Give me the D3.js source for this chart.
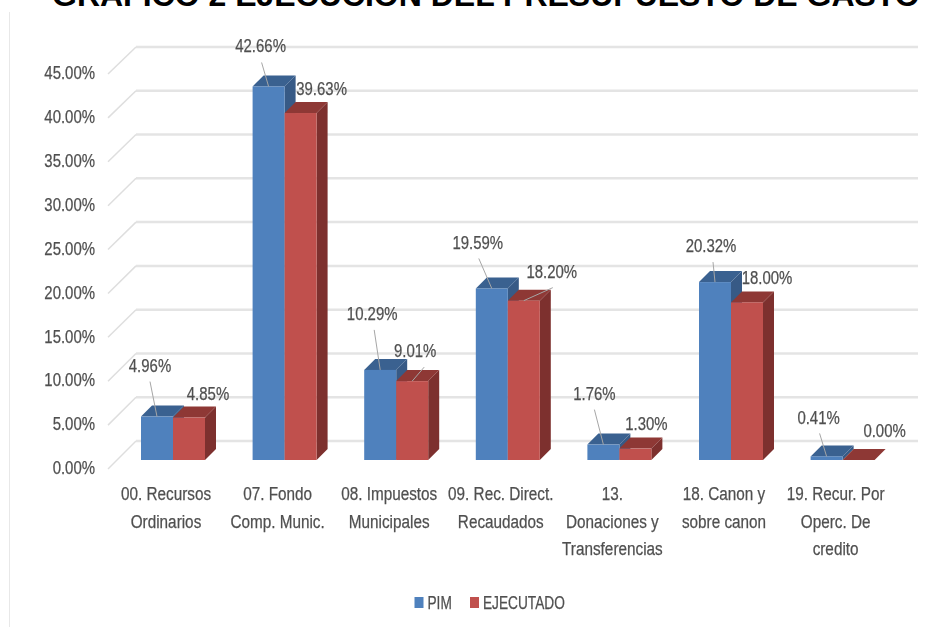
<!DOCTYPE html>
<html>
<head>
<meta charset="utf-8">
<script src="https://d3js.org/d3.v7.min.js"></script>
<style>
  html, body { margin: 0; padding: 0; background: #fff; overflow: hidden; }
  text { font-family: "Liberation Sans", Arial, sans-serif; fill: #505050; font-size: 18px; }
  .soft text, text.soft { stroke: #505050; stroke-width: 0.25px; }
</style>
</head>
<body>
<svg id="chart" width="946" height="627"></svg>
<script>
const titleText = 'GRAFICO 2 EJECUCION DEL PRESUPUESTO DE GASTO';
const categories = [
  ['00. Recursos', 'Ordinarios'],
  ['07. Fondo', 'Comp. Munic.'],
  ['08. Impuestos', 'Municipales'],
  ['09. Rec. Direct.', 'Recaudados'],
  ['13.', 'Donaciones y', 'Transferencias'],
  ['18. Canon y', 'sobre canon'],
  ['19. Recur. Por', 'Operc. De', 'credito']
];
const seriesNames = ['PIM', 'EJECUTADO'];
const pim = [4.96, 42.66, 10.29, 19.59, 1.76, 20.32, 0.41];
const ejecutado = [4.85, 39.63, 9.01, 18.20, 1.30, 18.00, 0.00];
const yTicks = [0, 5, 10, 15, 20, 25, 30, 35, 40, 45];

// data label place relative to the front top centre of its bar:
// [label dx, label dy, leader start dx, leader start dy] - leader is optional
const pimLabelPos = [
  [-7, -51, -7, -35], [-8, -41, -7, -24], [-8, -56, -6, -40], [-14, -46, -13, -30],
  [-9, -51, -9, -35], [-4, -36, -2, -20], [-8, -39, -7, -23]
];
const ejeLabelPos = [
  [19, -24], [21, -24], [3, -30, 12, -14], [28, -29, 29, -13],
  [11, -25], [20, -25], [26, -29]
];

const colors = {
  PIM: { front: '#4f81bd', top: '#3a6190', side: '#375a86' },
  EJECUTADO: { front: '#c0504d', top: '#8e3835', side: '#7d302e' }
};

const depth = 11;
const svg = d3.select('#chart');

// the source picture is a soft screenshot, text gets the same slight blur
svg.append('defs').append('filter').attr('id', 'soft')
  .append('feGaussianBlur').attr('stdDeviation', 0.4);

// no narrow font is installed, so squeeze the text to Calibri like widths
function squeeze(sel, factor) {
  sel.each(function () {
    d3.select(this)
      .attr('textLength', this.getComputedTextLength() * factor)
      .attr('lengthAdjust', 'spacingAndGlyphs');
  });
}

// three y scales: floor edge (tick labels), bar front plane, back wall
const yFloor = d3.scaleLinear().domain([0, 45]).range([469, 74]);
const yBar = d3.scaleLinear().domain([0, 45]).range([460, 66]);
const yWall = d3.scaleLinear().domain([0, 45]).range([441, 47]);

const x = d3.scaleBand().domain(d3.range(categories.length)).range([117.2, 898.4]);
const xSeries = d3.scaleBand().domain(seriesNames).range([-32, 32]);

// frame line on the left and title, the title is cut by the top of the picture
svg.append('line').attr('x1', 9.5).attr('x2', 9.5).attr('y1', 12).attr('y2', 627)
  .attr('stroke', '#e8e8e8').attr('stroke-width', 1);

svg.append('text').text(titleText)
  .attr('x', 52).attr('y', 6)
  .style('font-weight', 'bold').style('font-size', '32px').style('fill', '#000');

// back wall and floor lines
const grid = svg.append('g').attr('fill', 'none');
grid.selectAll('.wall').data(yTicks).enter().append('line').attr('class', 'wall')
  .attr('x1', 136).attr('x2', 918)
  .attr('y1', d => yWall(d)).attr('y2', d => yWall(d))
  .attr('stroke', '#e4e4e4').attr('stroke-width', 2.5);
grid.selectAll('.slant').data(yTicks).enter().append('line').attr('class', 'slant')
  .attr('x1', 108).attr('x2', 136)
  .attr('y1', d => yFloor(d)).attr('y2', d => yWall(d))
  .attr('stroke', '#dedede').attr('stroke-width', 1.5);

// y axis labels
const yAxis = svg.append('g').attr('class', 'soft').attr('transform', 'translate(95,-1)').attr('filter', 'url(#soft)')
  .call(d3.axisLeft(yFloor).tickValues(yTicks).tickSize(0).tickPadding(0).tickFormat(d => d.toFixed(2) + '%'));
yAxis.select('.domain').remove();
yAxis.selectAll('text')
  .style('font-size', '18px').style('fill', '#505050')
  .style('font-family', '"Liberation Sans", Arial, sans-serif')
  .call(squeeze, 0.83);

// bars, drawn left to right so the blue side is hidden by the red one
const bars = svg.append('g');
categories.forEach((cat, i) => {
  const cx = x(i) + x.bandwidth() / 2;
  seriesNames.forEach((name, s) => {
    const val = s === 0 ? pim[i] : ejecutado[i];
    const c = colors[name];
    const x0 = cx + xSeries(name), x1 = x0 + xSeries.bandwidth();
    const yTop = yBar(val), yBase = yBar(0);
    const g = bars.append('g');
    g.append('path')
      .attr('d', `M${x1},${yBase}L${x1 + depth},${yBase - depth}L${x1 + depth},${yTop - depth}L${x1},${yTop}Z`)
      .attr('fill', c.side);
    g.append('path')
      .attr('d', `M${x0},${yTop}L${x0 + depth},${yTop - depth}L${x1 + depth},${yTop - depth}L${x1},${yTop}Z`)
      .attr('fill', c.top);
    g.append('rect')
      .attr('x', x0).attr('y', yTop)
      .attr('width', xSeries.bandwidth()).attr('height', yBase - yTop)
      .attr('fill', c.front);
  });
});

// data labels with their leader lines
const labels = svg.append('g').attr('text-anchor', 'middle');
function drawLabel(val, name, i, pos) {
  const bx = x(i) + x.bandwidth() / 2 + xSeries(name) + xSeries.bandwidth() / 2;
  const by = yBar(val);
  if (pos.length > 2) {
    labels.append('line')
      .attr('x1', bx + pos[2]).attr('y1', by + pos[3])
      .attr('x2', bx).attr('y2', by)
      .attr('stroke', '#a6a6a6').attr('stroke-width', 1);
  }
  labels.append('text').text(val.toFixed(2) + '%')
    .attr('class', 'soft')
    .attr('x', bx + pos[0]).attr('y', by + pos[1]).attr('dy', '0.35em')
    .attr('filter', 'url(#soft)')
    .call(squeeze, 0.83);
}
pim.forEach((v, i) => drawLabel(v, 'PIM', i, pimLabelPos[i]));
ejecutado.forEach((v, i) => drawLabel(v, 'EJECUTADO', i, ejeLabelPos[i]));

// category labels
const catLabels = svg.append('g').attr('class', 'soft').attr('text-anchor', 'middle').attr('filter', 'url(#soft)');
categories.forEach((lines, i) => {
  const cx = x(i) + x.bandwidth() / 2 - 7;
  lines.forEach((t, k) => {
    catLabels.append('text').text(t)
      .attr('x', cx).attr('y', 494 + k * 27.5).attr('dy', '0.35em')
      .call(squeeze, 0.85);
  });
});

// legend
const legendX = d3.scaleOrdinal().domain(seriesNames).range([414.5, 470]);
const legend = svg.append('g');
seriesNames.forEach(name => {
  legend.append('rect')
    .attr('x', legendX(name)).attr('y', 597).attr('width', 9).attr('height', 11)
    .attr('fill', colors[name].front);
  legend.append('text').text(name)
    .attr('class', 'soft')
    .attr('x', legendX(name) + 13).attr('y', 602.5).attr('dy', '0.35em')
    .attr('filter', 'url(#soft)')
    .call(squeeze, 0.76);
});
</script>
</body>
</html>
